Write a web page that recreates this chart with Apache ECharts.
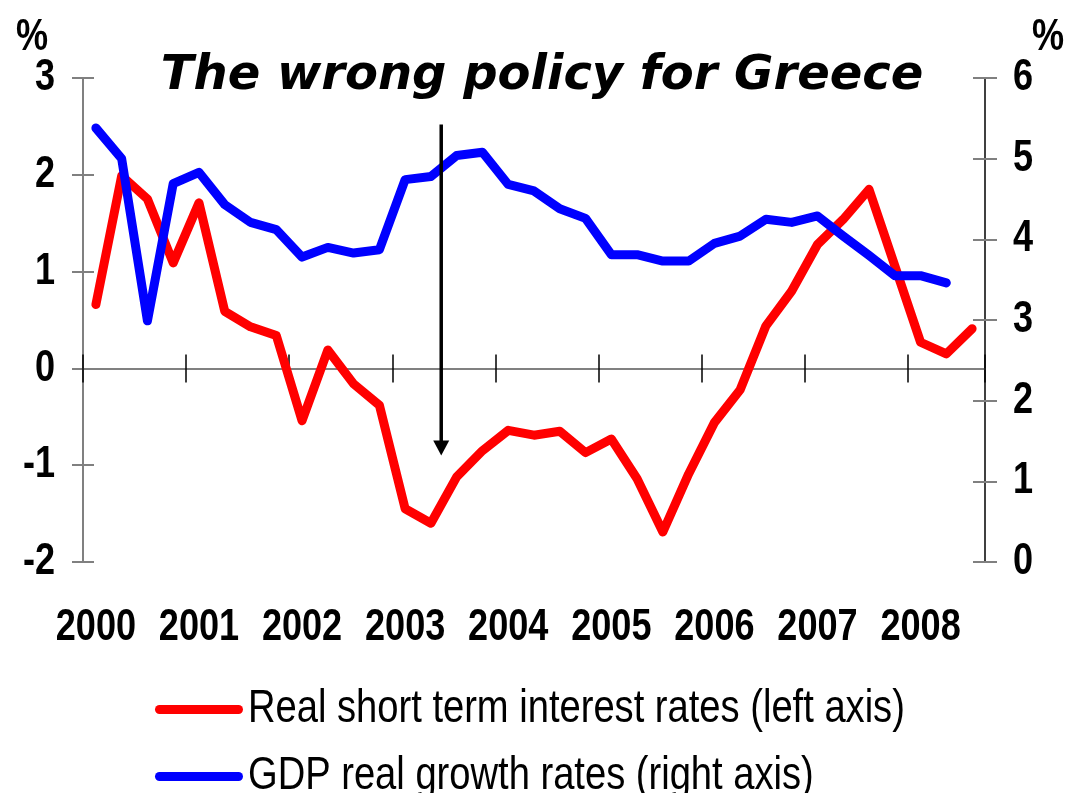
<!DOCTYPE html>
<html>
<head>
<meta charset="utf-8">
<title>The wrong policy for Greece</title>
<script src="https://cdn.jsdelivr.net/npm/echarts@6/dist/echarts.min.js"></script>
<style>
  html, body { margin: 0; padding: 0; background: #fff; }
  #chart { width: 1066px; height: 793px; }
</style>
</head>
<body>
<div id="chart"></div>
<script>
// Quarterly series, 2000 Q1 to 2008 Q3
const years = ['2000', '2001', '2002', '2003', '2004', '2005', '2006', '2007', '2008'];
const quarters = [];
years.forEach(function (y) {
  ['Q1', 'Q2', 'Q3', 'Q4'].forEach(function (q) { quarters.push(y + ' ' + q); });
});
quarters.length = 35; // last observation: 2008 Q3

// Real short term interest rates, % (left axis)
const realRates = [
  0.66, 1.99, 1.75, 1.09,
  1.71, 0.59, 0.43, 0.34,
  -0.54, 0.19, -0.16, -0.38,
  -1.45, -1.60, -1.12, -0.85,
  -0.64, -0.69, -0.65, -0.87,
  -0.73, -1.14, -1.69, -1.09,
  -0.56, -0.22, 0.44, 0.80,
  1.28, 1.54, 1.85, 1.06,
  0.27, 0.15, 0.41
];

// GDP real growth rates, % (right axis)
const gdpGrowth = [
  5.38, 5.00, 2.99, 4.69,
  4.83, 4.43, 4.21, 4.12,
  3.78, 3.90, 3.83, 3.87,
  4.74, 4.78, 5.04, 5.08,
  4.68, 4.60, 4.38, 4.26,
  3.81, 3.81, 3.73, 3.73,
  3.95, 4.04, 4.25, 4.21,
  4.29, 4.04, 3.80, 3.55,
  3.55, 3.46, null
];

const leftTicks = { min: -2, max: 3, step: 1 };
const rightTicks = { min: 0, max: 6, step: 1 };

// Annotation arrow: category position (mid-2003) and extent in left-axis units
const arrowAt = 13.4;
const arrowFrom = 2.52;
const arrowTo = -0.9;

const titleText = 'The wrong policy for Greece';
const seriesNames = ['Real short term interest rates (left axis)', 'GDP real growth rates (right axis)'];

// Labels use a condensed sans: Liberation Sans squeezed horizontally
const SANS = "'Liberation Sans', Arial, sans-serif";
const CONDENSE = 0.82;

const chart = echarts.init(document.getElementById('chart'), null, { renderer: 'canvas' });

function yAxisBase(side, range) {
  return {
    type: 'value',
    position: side,
    min: range.min,
    max: range.max,
    interval: range.step,
    splitLine: { show: false }
  };
}

const tickLabelStyle = {
  fontFamily: SANS,
  fontWeight: 'bold',
  fontSize: 44,
  color: '#000'
};

const legendCommon = {
  orient: 'vertical',
  left: 155,
  itemWidth: 88,
  itemHeight: 9,
  padding: 0,
  icon: 'path://M4.5,0 H83.5 A4.5,4.5 0 0 1 83.5,9 H4.5 A4.5,4.5 0 0 1 4.5,0 Z',
  selectedMode: false,
  textStyle: { fontFamily: SANS, fontSize: 46.5, lineHeight: 40, color: '#000' }
};

const option = {
  animation: false,
  backgroundColor: '#fff',
  grid: { left: 83, right: 81, top: 78, height: 484, outerBoundsMode: 'none' },
  xAxis: [
    {
      // axis line through zero, ticks below it
      type: 'category',
      data: quarters,
      boundaryGap: true,
      position: 'bottom',
      axisLine: { show: true, onZero: true, onZeroAxisIndex: 0, lineStyle: { color: '#808080', width: 2 } },
      axisTick: { show: true, interval: 3, inside: false, length: 14, lineStyle: { color: '#000', width: 1.5 } },
      axisLabel: { show: false },
      splitLine: { show: false }
    },
    {
      // ticks above the zero line
      type: 'category',
      data: quarters,
      boundaryGap: true,
      position: 'bottom',
      axisLine: { show: false, onZero: true, onZeroAxisIndex: 0 },
      axisTick: { show: true, interval: 3, inside: true, length: 14, lineStyle: { color: '#000', width: 1.5 } },
      axisLabel: { show: false },
      splitLine: { show: false }
    },
    {
      // year labels along the bottom
      type: 'category',
      data: quarters,
      boundaryGap: true,
      position: 'bottom',
      axisLine: { show: false, onZero: false },
      axisTick: { show: false },
      axisLabel: Object.assign({
        show: true,
        interval: 3,
        margin: 44,
        hideOverlap: false,
        formatter: function (v) { return v.slice(0, 4); }
      }, tickLabelStyle),
      splitLine: { show: false }
    }
  ],
  yAxis: [
    Object.assign(yAxisBase('left', leftTicks), {
      axisLine: { show: true, lineStyle: { color: '#808080', width: 2 } },
      axisTick: { show: true, inside: false, length: 11, lineStyle: { color: '#808080', width: 2 } },
      axisLabel: Object.assign({ margin: 28 }, tickLabelStyle)
    }),
    Object.assign(yAxisBase('right', rightTicks), {
      axisLine: { show: true, lineStyle: { color: '#000', width: 1.5 } },
      axisTick: { show: true, inside: false, length: 12, lineStyle: { color: '#808080', width: 2 } },
      axisLabel: Object.assign({ margin: 28 }, tickLabelStyle)
    }),
    Object.assign(yAxisBase('left', leftTicks), {
      axisLine: { show: false },
      axisTick: { show: true, inside: true, length: 11, lineStyle: { color: '#808080', width: 2 } },
      axisLabel: { show: false }
    }),
    Object.assign(yAxisBase('right', rightTicks), {
      axisLine: { show: false },
      axisTick: { show: true, inside: true, length: 12, lineStyle: { color: '#808080', width: 2 } },
      axisLabel: { show: false }
    })
  ],
  legend: [
    Object.assign({ top: 686, data: [seriesNames[0]] }, legendCommon),
    Object.assign({ top: 753, data: [seriesNames[1]] }, legendCommon)
  ],
  series: [
    {
      name: seriesNames[0],
      type: 'line',
      xAxisIndex: 0,
      yAxisIndex: 0,
      data: realRates,
      showSymbol: false,
      symbol: 'none',
      color: '#ff0000',
      lineStyle: { color: '#ff0000', width: 9, cap: 'round', join: 'round' },
      z: 3
    },
    {
      name: seriesNames[1],
      type: 'line',
      xAxisIndex: 0,
      yAxisIndex: 1,
      data: gdpGrowth,
      showSymbol: false,
      symbol: 'none',
      color: '#0000ff',
      lineStyle: { color: '#0000ff', width: 9, cap: 'round', join: 'round' },
      z: 4
    }
  ],
  graphic: [
    {
      type: 'text', id: 'title', x: 542, y: 77, z: 10,
      style: {
        text: titleText, align: 'center', verticalAlign: 'middle',
        font: 'italic bold 48px "DejaVu Sans"', fill: '#000'
      }
    },
    {
      type: 'text', id: 'pctLeft', x: 32, y: 38, z: 10, scaleX: CONDENSE,
      style: { text: '%', align: 'center', verticalAlign: 'middle', font: 'bold 44px ' + SANS, fill: '#000' }
    },
    {
      type: 'text', id: 'pctRight', x: 1048, y: 38, z: 10, scaleX: CONDENSE,
      style: { text: '%', align: 'center', verticalAlign: 'middle', font: 'bold 44px ' + SANS, fill: '#000' }
    }
  ]
};

chart.setOption(option);

// Arrow pointing down at the 2003 trough, placed through the axes
const i0 = Math.floor(arrowAt);
const xa = chart.convertToPixel({ xAxisIndex: 0 }, i0);
const xb = chart.convertToPixel({ xAxisIndex: 0 }, i0 + 1);
const ax = xa + (xb - xa) * (arrowAt - i0);
const ayTop = chart.convertToPixel({ yAxisIndex: 0 }, arrowFrom);
const ayTip = chart.convertToPixel({ yAxisIndex: 0 }, arrowTo);
const headLen = 15, headHalf = 8;

chart.setOption({
  graphic: [
    {
      type: 'line', id: 'arrowShaft', z: 20,
      shape: { x1: ax, y1: ayTop, x2: ax, y2: ayTip - headLen + 1 },
      style: { stroke: '#000', lineWidth: 3.5 }
    },
    {
      type: 'polygon', id: 'arrowHead', z: 20,
      shape: { points: [[ax - headHalf, ayTip - headLen], [ax + headHalf, ayTip - headLen], [ax, ayTip]] },
      style: { fill: '#000' }
    }
  ]
});

// Condense axis and legend labels around their own anchor points
const condensed = new Set(years.concat(seriesNames));
for (let v = leftTicks.min; v <= rightTicks.max; v++) condensed.add(String(v));

function condenseLabels() {
  const zr = chart.getZr();
  const visit = function (el) {
    if (el.type === 'text' && el.style && condensed.has(String(el.style.text))) {
      el.originX = el.style.x || 0;
      el.originY = el.style.y || 0;
      el.scaleX = CONDENSE;
      el.markRedraw();
    }
  };
  zr.storage.getRoots().forEach(function (root) {
    visit(root);
    if (root.traverse) root.traverse(visit);
  });
  zr.refreshImmediately();
}
condenseLabels();
</script>
</body>
</html>
